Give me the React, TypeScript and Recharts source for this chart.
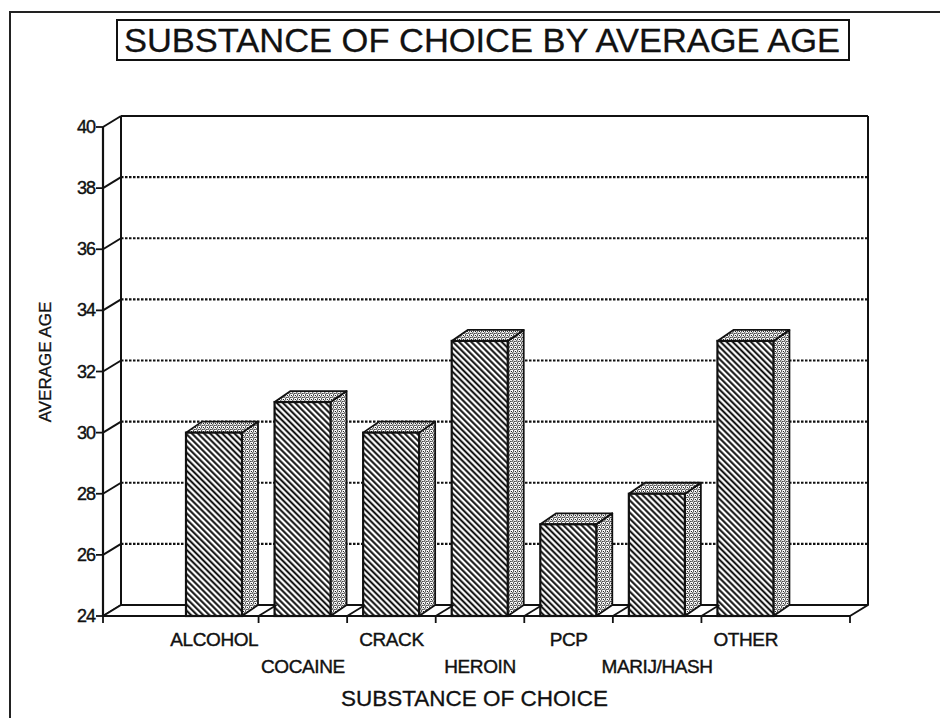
import React from 'react'
import { BarChart, Bar, XAxis, YAxis, CartesianGrid } from 'recharts'

const substances = ['ALCOHOL', 'COCAINE', 'CRACK', 'HEROIN', 'PCP', 'MARIJ/HASH', 'OTHER']
const averageAge = [30, 31, 30, 33, 27, 28, 33]
const ageTicks = [24, 26, 28, 30, 32, 34, 36, 38, 40]

const data = substances.map((name, i) => ({ name, age: averageAge[i] }))

// layout
const W = 948
const H = 726
const PLOT_L = 103
const PLOT_R = 850
const PLOT_T = 127
const PLOT_B = 616
const Y_AXIS_W = 70
const X_AXIS_H = 100
const PAD_L = 67
const PAD_R = 60
const BAND = (PLOT_R - PLOT_L - PAD_L - PAD_R) / substances.length
const WX = 18 // wall depth
const WY = 11
const BX = 16 // bar depth
const BY = 11
const FONT = "'Liberation Sans', Arial, Helvetica, sans-serif"
const INK = '#111'

const Bar3D = (p: any) => {
  const { x, y, width: w, height: h } = p
  if (!h || h <= 0) return null
  const side = `${x + w},${y} ${x + w + BX},${y - BY} ${x + w + BX},${y + h - BY} ${x + w},${y + h}`
  const top = `${x},${y} ${x + BX},${y - BY} ${x + w + BX},${y - BY} ${x + w},${y}`
  return (
    <g>
      <polygon points={side} fill="url(#stipple)" stroke={INK} strokeWidth={1.8} strokeLinejoin="round" />
      <polygon points={top} fill="url(#stipple)" stroke={INK} strokeWidth={1.8} strokeLinejoin="round" />
      <rect x={x} y={y} width={w} height={h} fill="url(#hatch)" stroke={INK} strokeWidth={2.2} />
    </g>
  )
}

// back wall, floor and dotted grid, drawn behind the bars
const WallLine = (p: any) => {
  const { x1, x2, y1, index } = p
  const pts: number[] = Array.isArray(p.horizontalPoints) ? p.horizontalPoints : []
  const top = typeof p.y === 'number' ? p.y : pts.length ? Math.min(...pts) : PLOT_T
  const bottom = typeof p.y === 'number' && typeof p.height === 'number' ? p.y + p.height : pts.length ? Math.max(...pts) : PLOT_B
  const isTop = Math.abs(y1 - top) < 1
  const isBottom = Math.abs(y1 - bottom) < 1
  const by = y1 - WY
  return (
    <g key={`wall-${index}`}>
      <line x1={x1} y1={y1} x2={x1 + WX} y2={by} stroke={INK} strokeWidth={2} />
      {isBottom && (
        <>
          <polygon
            points={`${x1},${y1} ${x2},${y1} ${x2 + WX},${by} ${x1 + WX},${by}`}
            fill="#fff" stroke={INK} strokeWidth={2} strokeLinejoin="round"
          />
          <line x1={x1 + WX} y1={by} x2={x1 + WX} y2={top - WY} stroke={INK} strokeWidth={2} />
          <line x1={x2 + WX} y1={by} x2={x2 + WX} y2={top - WY} stroke={INK} strokeWidth={2} />
        </>
      )}
      {isTop && <line x1={x1 + WX} y1={by} x2={x2 + WX} y2={by} stroke={INK} strokeWidth={2.2} />}
      {!isTop && !isBottom && (
        <line x1={x1 + WX} y1={by} x2={x2 + WX} y2={by} stroke={INK} strokeWidth={2.2} strokeDasharray="2.5 1.5" />
      )}
    </g>
  )
}

const XTick = (p: any) => {
  const { x, y, payload, index } = p
  const n = substances.length
  const bx = x + BAND / 2
  const row = index % 2 === 0 ? 30 : 57
  return (
    <g>
      {index < n - 1 && (
        <>
          <line x1={bx} y1={y} x2={bx + WX} y2={y - WY} stroke={INK} strokeWidth={1.8} />
          <line x1={bx} y1={y} x2={bx} y2={y + 7} stroke={INK} strokeWidth={1.8} />
        </>
      )}
      {index === 0 && <line x1={x - BAND / 2 - PAD_L} y1={y} x2={x - BAND / 2 - PAD_L} y2={y + 7} stroke={INK} strokeWidth={1.8} />}
      {index === n - 1 && <line x1={x + BAND / 2 + PAD_R} y1={y} x2={x + BAND / 2 + PAD_R} y2={y + 7} stroke={INK} strokeWidth={1.8} />}
      <text x={x} y={y + row} textAnchor="middle" fontSize={19} fontFamily={FONT} fill={INK}
        stroke={INK} strokeWidth={0.4} letterSpacing={-0.4}>
        {payload.value}
      </text>
    </g>
  )
}

const YTick = (p: any) => {
  const { x, y, payload } = p
  return (
    <text x={x} y={y + 6} textAnchor="end" fontSize={18} fontFamily={FONT} fill={INK}
      stroke={INK} strokeWidth={0.4} letterSpacing={-1}>
      {payload.value}
    </text>
  )
}

const XTitle = (p: any) => {
  const vb = p.viewBox || { x: PLOT_L, y: PLOT_B, width: PLOT_R - PLOT_L }
  return (
    <text x={vb.x + vb.width / 2 - 2} y={vb.y + 90} textAnchor="middle" fontSize={22.5} fontFamily={FONT} fill={INK}
      stroke={INK} strokeWidth={0.3}>
      SUBSTANCE OF CHOICE
    </text>
  )
}

const YTitle = () => {
  const cx = 51
  const cy = 362
  return (
    <text x={cx} y={cy} transform={`rotate(-90 ${cx} ${cy})`} textAnchor="middle" fontSize={17} fontFamily={FONT} fill={INK}
      stroke={INK} strokeWidth={0.3}>
      AVERAGE AGE
    </text>
  )
}

export default function App() {
  return (
    <div style={{ position: 'relative', width: W, height: H, margin: -8, background: '#fff', overflow: 'hidden' }}>
      <svg width={0} height={0} style={{ position: 'absolute' }}>
        <defs>
          <pattern id="hatch" width="4.3" height="4.3" patternUnits="userSpaceOnUse" patternTransform="rotate(-45)">
            <rect width="4.3" height="4.3" fill="#fff" />
            <line x1="1.2" y1="0" x2="1.2" y2="4.3" stroke="#000" strokeWidth="1.9" />
          </pattern>
          <pattern id="stipple" width="4" height="4" patternUnits="userSpaceOnUse">
            <rect width="4" height="4" fill="#fff" />
            <circle cx="0.8" cy="0.9" r="0.75" fill="#000" />
            <circle cx="2.9" cy="1.4" r="0.7" fill="#000" />
            <circle cx="1.6" cy="3.0" r="0.7" fill="#000" />
            <circle cx="3.6" cy="3.5" r="0.6" fill="#000" />
          </pattern>
        </defs>
      </svg>

      <div style={{ position: 'absolute', left: 9, top: 11, width: W, height: H, borderLeft: '2px solid #222', borderTop: '2px solid #222' }} />

      <div style={{ position: 'absolute', left: 116, top: 19, width: 734, height: 42, border: '2px solid #111', boxSizing: 'border-box', background: '#fff' }}>
        <svg width={730} height={38} style={{ display: 'block' }}>
          <text x={6} y={31} fontSize={34} fontFamily={FONT} fill={INK} stroke={INK} strokeWidth={0.3}
            textLength={716} lengthAdjust="spacingAndGlyphs">
            SUBSTANCE OF CHOICE BY AVERAGE AGE
          </text>
        </svg>
      </div>

      <BarChart
        width={W}
        height={H}
        data={data}
        margin={{ top: PLOT_T, right: W - PLOT_R, bottom: H - PLOT_B - X_AXIS_H, left: PLOT_L - Y_AXIS_W }}
        style={{ position: 'absolute', left: 0, top: 0 }}
      >
        <CartesianGrid horizontal={(p: any) => <WallLine {...p} />} vertical={false} />
        <XAxis
          dataKey="name"
          interval={0}
          padding={{ left: PAD_L, right: PAD_R }}
          height={X_AXIS_H}
          tickSize={0}
          tickMargin={0}
          tickLine={false}
          axisLine={{ stroke: INK, strokeWidth: 2.2 }}
          tick={(p: any) => <XTick {...p} />}
          label={<XTitle />}
        />
        <YAxis
          domain={[24, 40]}
          ticks={ageTicks}
          interval={0}
          width={Y_AXIS_W}
          tickSize={7}
          tickMargin={1}
          tickLine={{ stroke: INK, strokeWidth: 1.8 }}
          axisLine={{ stroke: INK, strokeWidth: 2.2 }}
          tick={(p: any) => <YTick {...p} />}
          label={<YTitle />}
        />
        <Bar dataKey="age" barSize={56} shape={(p: any) => <Bar3D {...p} />} isAnimationActive={false} />
      </BarChart>
    </div>
  )
}
